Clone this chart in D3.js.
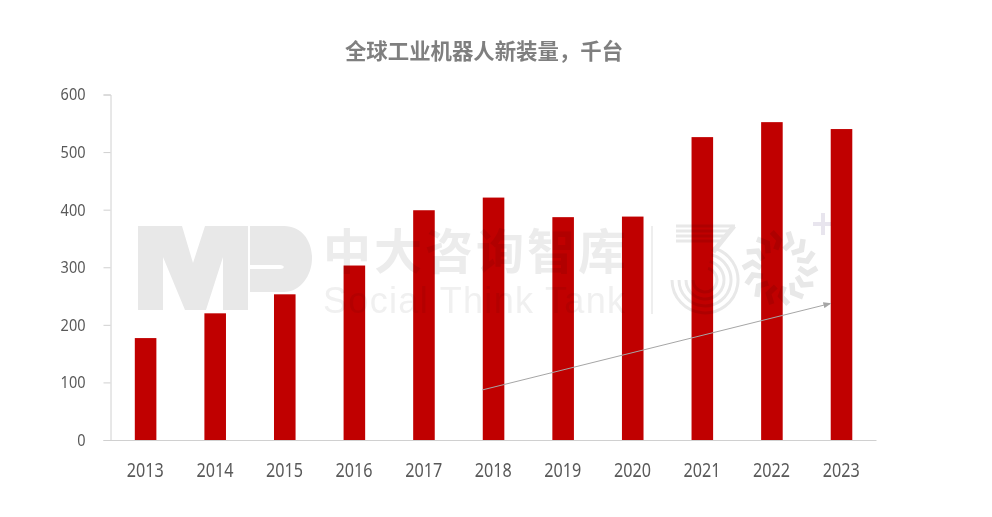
<!DOCTYPE html>
<html><head><meta charset="utf-8">
<script src="https://cdn.jsdelivr.net/npm/d3@7"></script>
<style>html,body{margin:0;background:#fff}svg{display:block}</style></head>
<body><svg id="c" width="992" height="517"></svg>
<script>
const titleText = "全球工业机器人新装量\uFF0C千台";
const years = ["2013","2014","2015","2016","2017","2018","2019","2020","2021","2022","2023"];
const installs = [177,220,253,303,399,421,387,388,526,552,540];
const yTicks = [0,100,200,300,400,500,600];
const trendFrom = ["2018",87];
const trendTo = ["2023",237];

const svg = d3.select("#c");
const x = d3.scaleBand().domain(years).range([110.5,876]).paddingInner(0.69).paddingOuter(0.345);
const y = d3.scaleLinear().domain([0,600]).range([440,94.5]);
const tickFont = '"Noto Sans",sans-serif';

svg.append("text").attr("x",484).attr("y",59).attr("text-anchor","middle")
  .attr("font-family",'"Noto Sans CJK SC"').attr("font-weight",700).attr("font-size",21.4)
  .attr("fill","#7f7f7f").text(titleText);

svg.append("g").selectAll("rect").data(years).join("rect")
  .attr("x",d=>x(d)+0.3).attr("width",x.bandwidth())
  .attr("y",(d,i)=>y(installs[i])).attr("height",(d,i)=>y(0)-y(installs[i]))
  .attr("fill","#c00000");

const yAxis = svg.append("g").attr("transform","translate(110.5,0)")
  .call(d3.axisLeft(y).tickValues(yTicks).tickSize(7).tickPadding(18));
const xAxis = svg.append("g").attr("transform","translate(0,440)")
  .call(d3.axisBottom(x).tickSize(0).tickPadding(23));
[yAxis,xAxis].forEach(a=>{
  a.selectAll("path,line").attr("stroke","#d0d0d0");
  a.selectAll("text").attr("font-family",tickFont).attr("fill","#595959").attr("lengthAdjust","spacingAndGlyphs");
});
yAxis.selectAll("text").attr("font-size",17).attr("textLength",d=>String(d).length*8.3);
xAxis.selectAll("text").attr("font-size",19.5).attr("textLength",37);

// trend arrow
const defs = svg.append("defs");
defs.append("marker").attr("id","ah").attr("markerWidth",8).attr("markerHeight",6).attr("refX",7).attr("refY",3)
  .attr("orient","auto").attr("markerUnits","userSpaceOnUse")
  .append("path").attr("d","M0,0L8,3L0,6Z").attr("fill","#a6a6a6");
svg.append("line")
  .attr("x1",x(trendFrom[0])).attr("y1",y(trendFrom[1]))
  .attr("x2",x(trendTo[0])).attr("y2",y(trendTo[1]))
  .attr("stroke","#a6a6a6").attr("stroke-width",1).attr("marker-end","url(#ah)");

// watermark
const wm = svg.append("g").style("mix-blend-mode","multiply").attr("pointer-events","none");
const g1="#e8e8e8", g2="#ececec", g3="#f0f0f0";
wm.append("path").attr("fill",g1).attr("d","M138,226H182L193,263L205,226H248V310H223V257L206,310H185L163,257V310H138Z");
wm.append("path").attr("fill",g1)
  .attr("d","M250,226H284C302,226 312,241 312,258C312,276 300,292 284,292H250V269H280C285,269 285,265 280,265H250Z");
wm.append("text").attr("x",323).attr("y",269).attr("font-family",'"Noto Sans CJK SC"').attr("font-weight",700)
  .attr("font-size",48).attr("fill",g2).attr("textLength",303).text("中大咨询智库");
wm.append("text").attr("x",323).attr("y",313).attr("font-family",'"Liberation Sans",sans-serif')
  .attr("font-size",36).attr("fill",g3).attr("textLength",302).text("Social Think Tank");
wm.append("line").attr("x1",652).attr("x2",652).attr("y1",226).attr("y2",314).attr("stroke",g1).attr("stroke-width",1.5);
const three = wm.append("g").attr("fill","none").attr("stroke",g1);
[226,231,236,241].forEach((yy,i)=>three.append("line").attr("x1",676).attr("x2",735-i*4).attr("y1",yy).attr("y2",yy).attr("stroke-width",2.8));
three.append("line").attr("x1",734).attr("x2",713).attr("y1",226).attr("y2",252).attr("stroke-width",5);
[12,19,26,33].forEach(r=>three.append("path").attr("stroke-width",3)
  .attr("d",`M${705-r},280A${r},${r} 0 1 0 ${705+r*0.25},${280-r*0.97}`));
const burst = wm.append("g").attr("transform","translate(780,268)").attr("stroke",g1).attr("stroke-width",5.5).attr("fill","none");
d3.range(14).forEach(i=>{
  const a=i/14*2*Math.PI;
  const p=(r,t)=>`${r*Math.cos(t)},${r*Math.sin(t)}`;
  burst.append("path").attr("d",`M${p(37,a)}L${p(28,a+.2)}L${p(19,a)}`);
});
wm.append("path").attr("stroke","#e8e5ee").attr("stroke-width",4).attr("fill","none").attr("d","M813,224H831M823,213V235");
</script></body></html>
